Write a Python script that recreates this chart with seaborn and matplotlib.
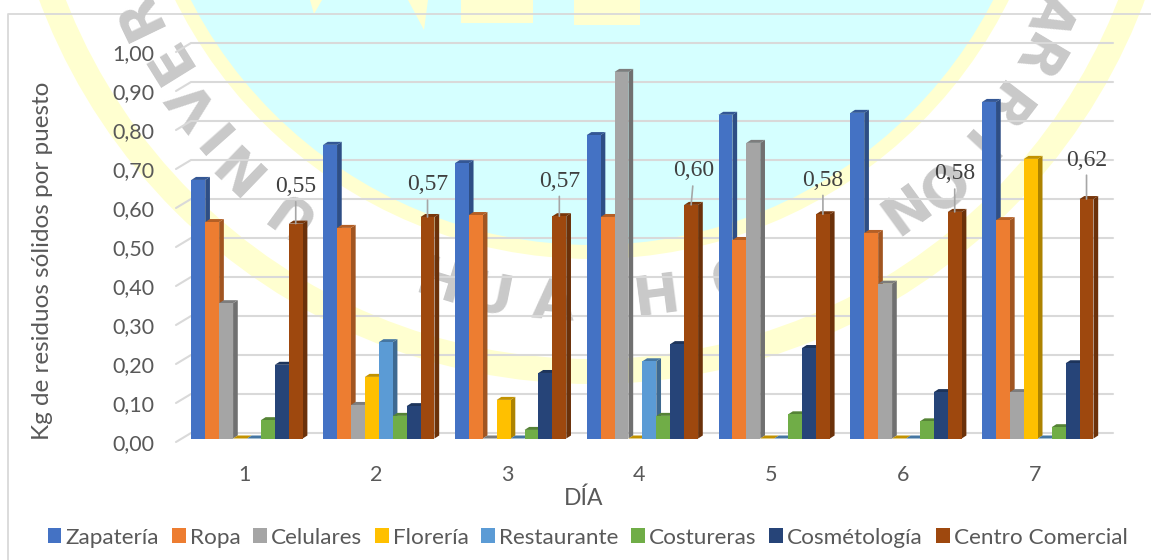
"""Residuos solidos por puesto y dia: barras con falso 3D sobre marca de agua."""

import matplotlib

matplotlib.use("Agg")
import matplotlib.pyplot as plt
import numpy as np
import pandas as pd
import seaborn as sns
from matplotlib.colors import to_rgb
from matplotlib.patches import Circle, Polygon
from matplotlib.transforms import ScaledTranslation

# Data
dias = ["1", "2", "3", "4", "5", "6", "7"]
zapateria = [0.663, 0.753, 0.706, 0.778, 0.83, 0.835, 0.863]
ropa = [0.555, 0.54, 0.573, 0.568, 0.509, 0.527, 0.56]
celulares = [0.347, 0.086, 0.0, 0.94, 0.758, 0.397, 0.119]
floreria = [0.0, 0.158, 0.099, 0.0, 0.0, 0.0, 0.717]
restaurante = [0.0, 0.247, 0.0, 0.198, 0.0, 0.0, 0.0]
costureras = [0.047, 0.058, 0.022, 0.058, 0.062, 0.044, 0.029]
cosmetologia = [0.189, 0.083, 0.168, 0.242, 0.232, 0.119, 0.193]
centro = [0.551, 0.568, 0.57, 0.599, 0.575, 0.581, 0.614]
etiquetas = ["0,55", "0,57", "0,57", "0,60", "0,58", "0,58", "0,62"]
puestos = ["Zapatería", "Ropa", "Celulares", "Florería", "Restaurante",
           "Costureras", "Cosmétología", "Centro Comercial"]
y_ticks = [0.0, 0.1, 0.2, 0.3, 0.4, 0.5, 0.6, 0.7, 0.8, 0.9, 1.0]

colores = ["#4472C4", "#ED7D31", "#A5A5A5", "#FFC000",
           "#5B9BD5", "#70AD47", "#264478", "#9E480E"]
# Offset of each data label from its bar top, in pixels
label_dx = [0, 0, 0, 3, 0, 0, 0]
label_dy = [37, 32, 35, 34, 34, 38, 39]

W, H = 1151, 560
GRIS_TEXTO = "#595959"
GRIS_LINEA = "#D9D9D9"
MARCA = "#C9C9C9"
SANS = "Lato"

sns.set_theme(style="white")
plt.rcParams["font.family"] = [SANS, "DejaVu Sans"]

fig = plt.figure(figsize=(W / 100, H / 100), dpi=100, facecolor="white")

# Watermark, in pixel coordinates
bg = fig.add_axes([0, 0, 1, 1], zorder=-1)
bg.set_xlim(0, W)
bg.set_ylim(H, 0)
bg.axis("off")
cx, cy = 592, -206
for radio, col in [(590, "#FFFFD0"), (565, "white"), (465, "#FFFFD0"), (451, "#D5FFFF")]:
    bg.add_patch(Circle((cx, cy), radio, color=col, lw=0))
for forma in [[(310, 0), (322, 0), (314, 14)],
              [(408, 0), (428, 0), (424, 30)],
              [(461, 0), (533, 0), (533, 23), (461, 23)],
              [(574, 0), (640, 0), (640, 25), (574, 25)]]:
    bg.add_patch(Polygon(forma, color="#FFFFD0", lw=0))


def letra(ch, x, y, arriba=True):
    ang = np.degrees(np.arctan2(-(y - cy), x - cx))
    rot = ang - 90 if arriba else ang + 90
    bg.text(x, y, ch, rotation=rot, rotation_mode="anchor", ha="center", va="center",
            fontsize=40, fontweight="bold", color=MARCA, family="DejaVu Sans")


for ch, x, y in [("R", 138, 13), ("E", 168, 57), ("V", 195, 103), ("I", 214, 130),
                 ("N", 237, 163), ("U", 287, 210), ("A", 1050, 13), ("R", 1033, 57),
                 ("R", 1000, 105), ("I", 972, 145), ("O", 937, 183), ("N", 893, 207)]:
    letra(ch, x, y)
for ch, x, y in [("H", 440, 285), ("U", 490, 298), ("A", 553, 303),
                 ("C", 607, 303), ("H", 657, 298), ("O", 735, 280)]:
    letra(ch, x, y, arriba=False)

# Chart frame (only top and left survive in the crop)
bg.plot([8, 8, W], [H, 14, 14], color=GRIS_LINEA, lw=1.3)

# Axes placed so day 1 is centred on x=247 and 0..1 spans 390 px
PASO = 131.8
ax = fig.add_axes([181.1 / W, (H - 438.5) / H, PASO * 7 / W, 390 / H], facecolor="none")

df = pd.DataFrame(
    {
        "dia": dias,
        puestos[0]: zapateria,
        puestos[1]: ropa,
        puestos[2]: celulares,
        puestos[3]: floreria,
        puestos[4]: restaurante,
        puestos[5]: costureras,
        puestos[6]: cosmetologia,
        puestos[7]: centro,
    }
).melt(id_vars="dia", var_name="puesto", value_name="kg")

sns.barplot(
    data=df,
    x="dia",
    y="kg",
    hue="puesto",
    hue_order=puestos,
    palette=colores,
    saturation=1,
    width=0.845,
    gap=0,
    errorbar=None,
    linewidth=0,
    ax=ax,
    zorder=5,
)

ax.set_xlim(-0.5, 6.5)
ax.set_ylim(0, 1)
sns.despine(ax=ax, left=True, bottom=True)

# Back wall and side wall gridlines
px_x = 1 / PASO
px_y = 1 / 390
for v in y_ticks:
    ax.plot([-71 * px_x, -56 * px_x, 866 * px_x], [v - 3.5 * px_y, v + 5.5 * px_y, v + 5.5 * px_y],
            color=GRIS_LINEA, lw=1.5, clip_on=False, zorder=1, solid_joinstyle="miter")

# Fake 3D: side and top faces behind the seaborn fronts
prof_x, prof_y = 4.7 * px_x, 3 * px_y
for cont, col in zip(ax.containers, colores):
    rgb = np.array(to_rgb(col))
    for bar in cont:
        x0, w, h = bar.get_x(), bar.get_width(), bar.get_height()
        x1 = x0 + w
        ax.add_patch(Polygon([(x1, 0), (x1 + prof_x, prof_y), (x1 + prof_x, h + prof_y), (x1, h)],
                             color=rgb * 0.68, lw=0, clip_on=False, zorder=3))
        ax.add_patch(Polygon([(x0, h), (x0 + prof_x, h + prof_y), (x1 + prof_x, h + prof_y), (x1, h)],
                             color=rgb * 0.76, lw=0, clip_on=False, zorder=4))
        bar.set_clip_on(False)

# Data labels on the Centro Comercial series
for bar, val, txt, dx, dy in zip(ax.containers[-1], centro, etiquetas, label_dx, label_dy):
    xc = bar.get_x() + bar.get_width() / 2
    ax.annotate(
        txt,
        xy=(xc, val),
        xytext=(dx, dy),
        textcoords="offset pixels",
        ha="center",
        va="center",
        fontsize=17,
        family="Liberation Serif",
        color="#404040",
        zorder=8,
        arrowprops=dict(arrowstyle="-", color="#A6A6A6", lw=1.2, shrinkA=1, shrinkB=0),
        annotation_clip=False,
    )

# Ticks
ax.set_yticks(y_ticks)
ax.set_yticklabels([f"{v:.2f}".replace(".", ",") for v in y_ticks])
ax.tick_params(axis="both", length=0, labelsize=15.5, labelcolor=GRIS_TEXTO)
ax.tick_params(axis="y", pad=19)
ax.tick_params(axis="x", pad=19)
off_y = ScaledTranslation(0, -4 / 100, fig.dpi_scale_trans)
off_x = ScaledTranslation(-3 / 100, 0, fig.dpi_scale_trans)
for lab in ax.get_yticklabels():
    lab.set_transform(lab.get_transform() + off_y)
for lab in ax.get_xticklabels():
    lab.set_transform(lab.get_transform() + off_x)

ax.set_ylabel("Kg de residuos sólidos por puesto", fontsize=17.5, color=GRIS_TEXTO, va="center")
ax.yaxis.set_label_coords((43 - 181.1) / (PASO * 7), (438.5 - 261) / 390)
ax.set_xlabel("DÍA", fontsize=16.5, color=GRIS_TEXTO, va="center")
ax.xaxis.set_label_coords((583.7 - 181.1) / (PASO * 7), (438.5 - 498) / 390)

sns.move_legend(
    ax,
    "center",
    bbox_to_anchor=(587.5 / W, (H - 537.5) / H),
    bbox_transform=fig.transFigure,
    ncol=8,
    title=None,
    frameon=False,
    fontsize=16.2,
    handlelength=0.62,
    handleheight=0.62,
    handletextpad=0.18,
    columnspacing=0.56,
    labelcolor=GRIS_TEXTO,
    borderpad=0,
    borderaxespad=0,
)

fig.savefig("out.png", dpi=100)
